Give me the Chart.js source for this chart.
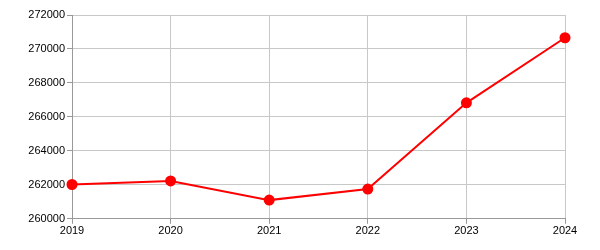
<!DOCTYPE html>
<html><head><meta charset="utf-8">
<script src="https://cdn.jsdelivr.net/npm/chart.js@4"></script>
<style>html,body{margin:0;padding:0;background:#fff}#wrap{width:600px;height:250px}</style>
</head><body><div id="wrap"><canvas id="c"></canvas></div>
<script>
const categories = ["2019","2020","2021","2022","2023","2024"];
const values = [262020, 262230, 261100, 261750, 266830, 270660];
const yMin = 260000, yMax = 272000, yStep = 2000;

new Chart(document.getElementById('c'), {
  type: 'line',
  data: { labels: categories, datasets: [{
    data: values, borderColor: '#ff0000', backgroundColor: '#ff0000',
    borderWidth: 2, pointRadius: 4.5, pointHoverRadius: 4.5, tension: 0, fill: false
  }]},
  options: {
    responsive: true, maintainAspectRatio: false, animation: false,
    layout: { padding: { left: 0, right: 35, top: 15, bottom: 11 } },
    plugins: { legend: { display: false }, tooltip: { enabled: false } },
    scales: {
      x: { offset: false,
        grid: { color: '#c8c8c8', tickLength: 5, tickColor: '#999' },
        border: { color: '#999' },
        ticks: { color: '#000', font: { family: 'Liberation Sans', size: 11 }, maxRotation: 0, padding: 1 } },
      y: { min: yMin, max: yMax,
        afterFit: (s) => { s.width = 72; },
        grid: { color: '#c8c8c8', tickLength: 5, tickColor: '#999' },
        border: { color: '#999' },
        ticks: { stepSize: yStep, color: '#000', font: { family: 'Liberation Sans', size: 11 }, padding: 2,
          callback: (v) => String(v) } }
    }
  }
});
</script></body></html>
